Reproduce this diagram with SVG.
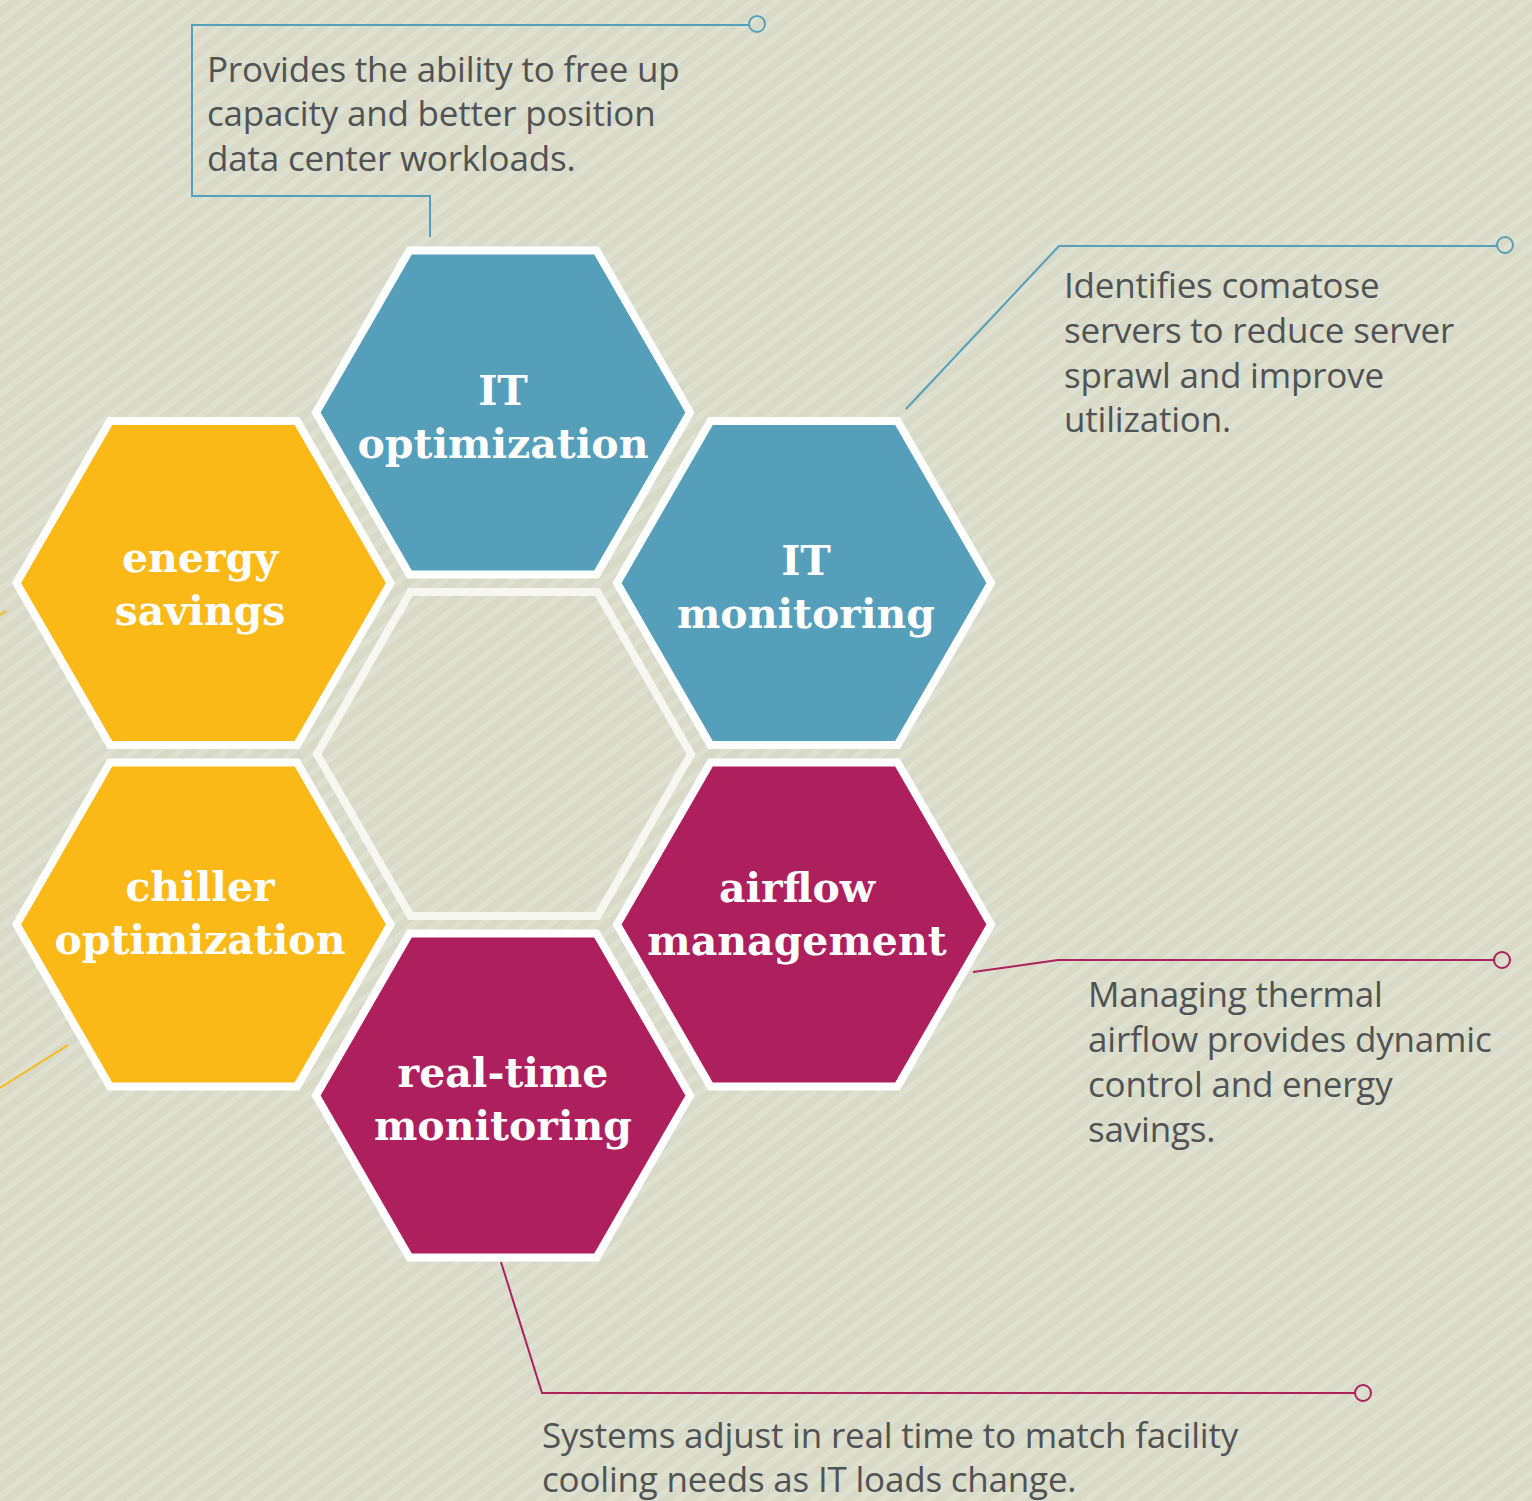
<svg xmlns="http://www.w3.org/2000/svg" width="1532" height="1501" viewBox="0 0 1532 1501">
<defs>
<pattern id="stripes" patternUnits="userSpaceOnUse" width="14" height="14" patternTransform="rotate(-38)">
<rect width="14" height="14" fill="#d8dac7"/>
<rect y="0" width="14" height="6" fill="#dee0d0"/>
</pattern>
<polygon id="hex" points="-187,0 -93.5,-162 93.5,-162 187,0 93.5,162 -93.5,162"/>
<style>
.hexc{stroke:#ffffff;stroke-width:8;stroke-linejoin:miter}
.blue{fill:#559fba}
.yellow{fill:#fbb918}
.mag{fill:#ae1f5e}
.lbl{font-family:"DejaVu Serif",serif;font-weight:bold;font-size:41px;fill:#ffffff;text-anchor:middle}
.desc{font-family:"Open Sans","Noto Sans",sans-serif;font-size:35px;fill:#515254;letter-spacing:-0.2px}
.cb{fill:none;stroke:#559fba;stroke-width:2}
.cm{fill:none;stroke:#ae1f5e;stroke-width:2}
.cy{fill:none;stroke:#fbb918;stroke-width:2}
</style>
</defs>
<rect width="1532" height="1501" fill="url(#stripes)"/>

<g id="connectors">
<polyline class="cb" points="749,25 192,25 192,196 430,196 430,237"/>
<circle class="cb" cx="757" cy="24" r="8"/>
<polyline class="cb" points="906,409 1059,246 1497,246"/>
<circle class="cb" cx="1505" cy="245" r="8"/>
<polyline class="cm" points="973,972 1058,960 1494,960"/>
<circle class="cm" cx="1502" cy="960" r="8"/>
<polyline class="cm" points="501,1262 542,1393 1355,1393"/>
<circle class="cm" cx="1363" cy="1393" r="8"/>
<line class="cy" x1="0" y1="615" x2="6" y2="611"/>
<line class="cy" x1="0" y1="1088" x2="68" y2="1045"/>
</g>

<g id="center-hex">
<use href="#hex" x="504" y="754" fill="none" stroke="#f7f7f2" stroke-width="8"/>
</g>

<g id="it-optimization">
<use href="#hex" x="503" y="412.5" class="hexc blue"/>
<text class="lbl" x="503" y="405">IT</text>
<text class="lbl" x="503" y="458">optimization</text>
</g>

<g id="energy-savings">
<use href="#hex" x="203.5" y="583" class="hexc yellow"/>
<text class="lbl" x="200" y="572">energy</text>
<text class="lbl" x="200" y="625">savings</text>
</g>

<g id="it-monitoring">
<use href="#hex" x="804" y="583" class="hexc blue"/>
<text class="lbl" x="806" y="575">IT</text>
<text class="lbl" x="806" y="628">monitoring</text>
</g>

<g id="chiller-optimization">
<use href="#hex" x="203.5" y="924.5" class="hexc yellow"/>
<text class="lbl" x="200" y="901">chiller</text>
<text class="lbl" x="200" y="954">optimization</text>
</g>

<g id="airflow-management">
<use href="#hex" x="804" y="924.5" class="hexc mag"/>
<text class="lbl" x="797" y="902">airflow</text>
<text class="lbl" x="797" y="955">management</text>
</g>

<g id="real-time-monitoring">
<use href="#hex" x="503" y="1095.5" class="hexc mag"/>
<text class="lbl" x="503" y="1087">real-time</text>
<text class="lbl" x="503" y="1140">monitoring</text>
</g>

<g id="desc-it-optimization">
<text class="desc" x="207" y="82">Provides the ability to free up</text>
<text class="desc" x="207" y="126">capacity and better position</text>
<text class="desc" x="207" y="171">data center workloads.</text>
</g>

<g id="desc-it-monitoring">
<text class="desc" x="1064" y="298">Identifies comatose</text>
<text class="desc" x="1064" y="343">servers to reduce server</text>
<text class="desc" x="1064" y="388">sprawl and improve</text>
<text class="desc" x="1064" y="432">utilization.</text>
</g>

<g id="desc-airflow">
<text class="desc" x="1088" y="1007">Managing thermal</text>
<text class="desc" x="1088" y="1052">airflow provides dynamic</text>
<text class="desc" x="1088" y="1097">control and energy</text>
<text class="desc" x="1088" y="1142">savings.</text>
</g>

<g id="desc-real-time">
<text class="desc" x="542" y="1448">Systems adjust in real time to match facility</text>
<text class="desc" x="542" y="1492">cooling needs as IT loads change.</text>
</g>
</svg>
